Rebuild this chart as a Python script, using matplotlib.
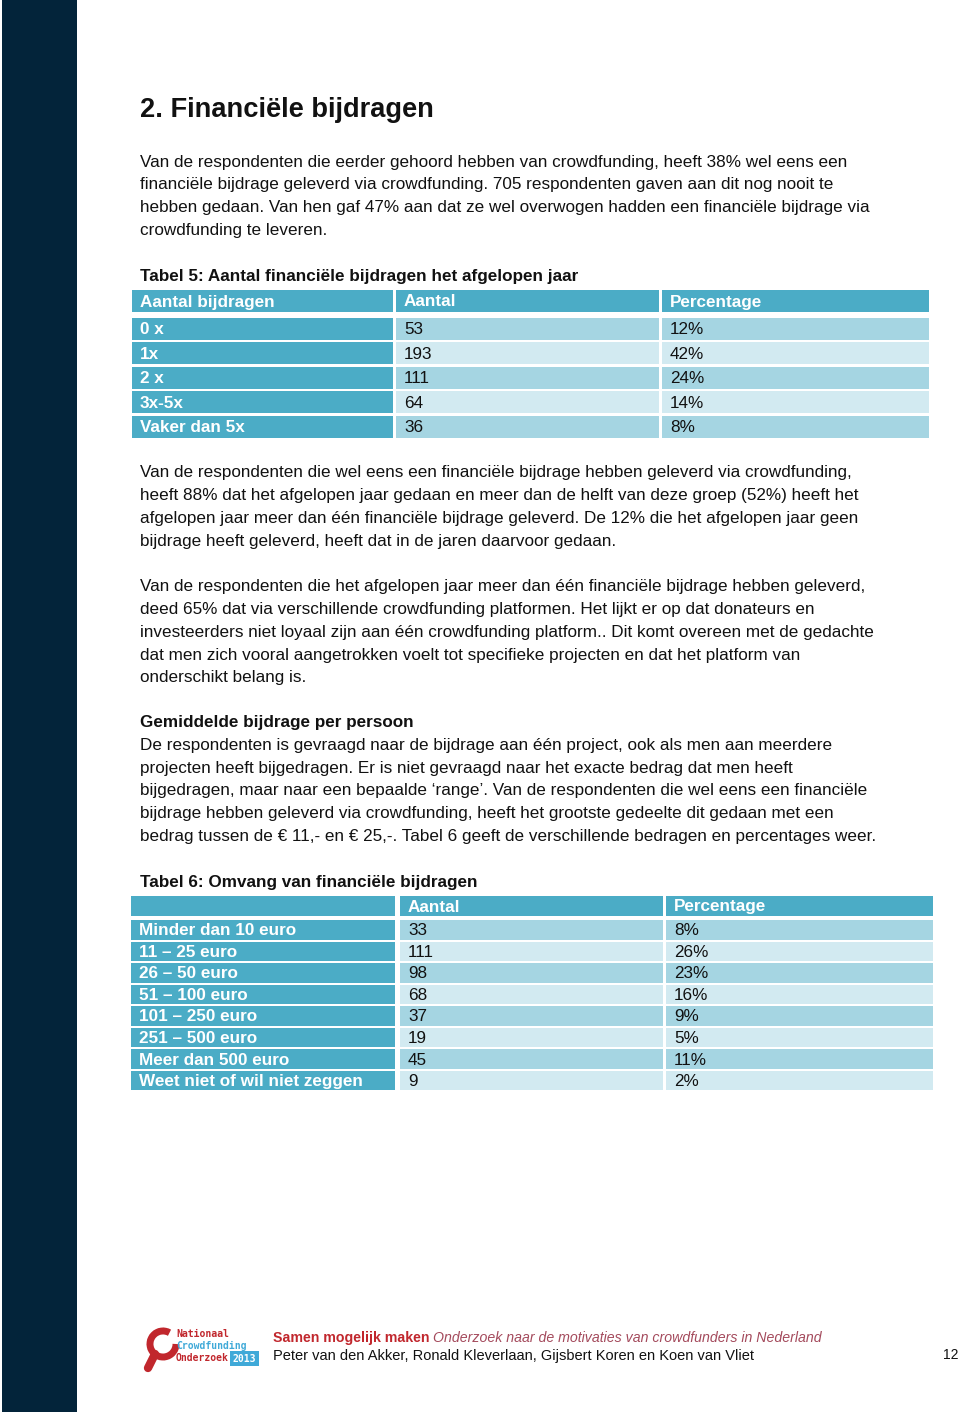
import matplotlib
matplotlib.use("Agg")
import matplotlib.pyplot as plt
from matplotlib.patches import Rectangle, Arc

plt.rcParams['font.family'] = ['Liberation Sans', 'DejaVu Sans']

# ---------------- data ----------------
t5_title = "Tabel 5: Aantal financiële bijdragen het afgelopen jaar"
t5_header = ["Aantal bijdragen", "Aantal", "Percentage"]
t5_categories = ["0 x", "1x", "2 x", "3x-5x", "Vaker dan 5x"]
t5_counts = [53, 193, 111, 64, 36]
t5_percent = ["12%", "42%", "24%", "14%", "8%"]

t6_title = "Tabel 6: Omvang van financiële bijdragen"
t6_header = ["", "Aantal", "Percentage"]
t6_categories = ["Minder dan 10 euro", "11 – 25 euro", "26 – 50 euro", "51 – 100 euro",
                 "101 – 250 euro", "251 – 500 euro", "Meer dan 500 euro",
                 "Weet niet of wil niet zeggen"]
t6_counts = [33, 111, 98, 68, 37, 19, 45, 9]
t6_percent = ["8%", "26%", "23%", "16%", "9%", "5%", "11%", "2%"]

heading = "2. Financiële bijdragen"
para1 = ["Van de respondenten die eerder gehoord hebben van crowdfunding, heeft 38% wel eens een",
         "financiële bijdrage geleverd via crowdfunding. 705 respondenten gaven aan dit nog nooit te",
         "hebben gedaan. Van hen gaf 47% aan dat ze wel overwogen hadden een financiële bijdrage via",
         "crowdfunding te leveren."]
para2 = ["Van de respondenten die wel eens een financiële bijdrage hebben geleverd via crowdfunding,",
         "heeft 88% dat het afgelopen jaar gedaan en meer dan de helft van deze groep (52%) heeft het",
         "afgelopen jaar meer dan één financiële bijdrage geleverd. De 12% die het afgelopen jaar geen",
         "bijdrage heeft geleverd, heeft dat in de jaren daarvoor gedaan."]
para3 = ["Van de respondenten die het afgelopen jaar meer dan één financiële bijdrage hebben geleverd,",
         "deed 65% dat via verschillende crowdfunding platformen. Het lijkt er op dat donateurs en",
         "investeerders niet loyaal zijn aan één crowdfunding platform.. Dit komt overeen met de gedachte",
         "dat men zich vooral aangetrokken voelt tot specifieke projecten en dat het platform van",
         "onderschikt belang is."]
sub_heading = "Gemiddelde bijdrage per persoon"
para4 = ["De respondenten is gevraagd naar de bijdrage aan één project, ook als men aan meerdere",
         "projecten heeft bijgedragen. Er is niet gevraagd naar het exacte bedrag dat men heeft",
         "bijgedragen, maar naar een bepaalde ‘range’. Van de respondenten die wel eens een financiële",
         "bijdrage hebben geleverd via crowdfunding, heeft het grootste gedeelte dit gedaan met een",
         "bedrag tussen de € 11,- en € 25,-. Tabel 6 geeft de verschillende bedragen en percentages weer."]

footer_bold = "Samen mogelijk maken"
footer_italic = "Onderzoek naar de motivaties van crowdfunders in Nederland"
footer_authors = "Peter van den Akker, Ronald Kleverlaan, Gijsbert Koren en Koen van Vliet"
page_number = "12"

# ---------------- styles ----------------
HEAD = "#4BACC6"
BAND1 = "#A5D5E2"
BAND2 = "#D2EAF1"
NAVY = "#03243A"
BODY_FS = 12.3
TAB_FS = 12.3

fig = plt.figure(figsize=(9.6, 14.12), dpi=100)
ax = fig.add_axes([0, 0, 1, 1])
ax.set_xlim(0, 960)
ax.set_ylim(1412, 0)
ax.axis("off")

# left bar
ax.add_patch(Rectangle((2, 0), 75, 1412, color=NAVY, lw=0))

ax.text(140, 110, heading, fontsize=19.6, fontweight="bold", va="center", color="#111111")


def para(lines, y0, step=22.7):
    for i, ln in enumerate(lines):
        ax.text(140, y0 + i * step, ln, fontsize=BODY_FS, va="center", color="#111111")


para(para1, 162)


def table(title, title_y, header, cats, counts, pcts, cols, head_y, head_h,
          row_y0, row_pitch, row_h, fs):
    ax.text(140, title_y, title, fontsize=fs, fontweight="bold", va="center", color="#111111")
    for (x0, x1), h in zip(cols, header):
        ax.add_patch(Rectangle((x0, head_y), x1 - x0, head_h, color=HEAD, lw=0))
        ax.text(x0 + 8, head_y + head_h / 2 + 1, h, fontsize=fs, fontweight="bold",
                color="white", va="center")
    for i, (c, n, p) in enumerate(zip(cats, counts, pcts)):
        y = row_y0 + i * row_pitch
        band = BAND1 if i % 2 == 0 else BAND2
        for j, ((x0, x1), val) in enumerate(zip(cols, [c, str(n), p])):
            ax.add_patch(Rectangle((x0, y), x1 - x0, row_h,
                                   color=HEAD if j == 0 else band, lw=0))
            ax.text(x0 + 8, y + row_h / 2 + 1, val, fontsize=fs,
                    fontweight="bold" if j == 0 else "normal",
                    color="white" if j == 0 else "#111111", va="center")


table(t5_title, 276, t5_header, t5_categories, t5_counts, t5_percent,
      [(132, 393), (396, 659), (662, 929)], 290, 22, 317.5, 24.6, 22, TAB_FS)

para(para2, 473)
para(para3, 587)
ax.text(140, 723, sub_heading, fontsize=BODY_FS, fontweight="bold", va="center", color="#111111")
para(para4, 745.5)

table(t6_title, 882, t6_header, t6_categories, t6_counts, t6_percent,
      [(131, 395), (400, 663), (666, 933)], 896, 20, 920, 21.55, 19.5, TAB_FS)

# ---------------- footer ----------------
RED = "#C1272D"
ax.add_patch(Arc((163, 1344), 26, 26, theta1=0, theta2=300, color=RED, lw=5))
ax.plot([155, 148], [1354, 1368], color=RED, lw=6, solid_capstyle="round")
ax.text(176, 1334, "Nationaal", fontsize=7, fontweight="bold", color=RED, va="center",
        family="DejaVu Sans Mono")
ax.text(176, 1346, "Crowdfunding", fontsize=7, fontweight="bold", color="#3FA9D8", va="center",
        family="DejaVu Sans Mono")
ax.text(176, 1358, "Onderzoek", fontsize=7, fontweight="bold", color=RED, va="center",
        family="DejaVu Sans Mono")
ax.add_patch(Rectangle((230, 1351), 29, 15, color="#3FA9D8", lw=0))
ax.text(244.5, 1359, "2013", fontsize=7, fontweight="bold", color="white", va="center",
        ha="center", family="DejaVu Sans Mono")

t = ax.text(273, 1338, footer_bold + " ", fontsize=10.2, fontweight="bold", color=RED, va="center")
fig.canvas.draw()
bb = t.get_window_extent()
x_end = ax.transData.inverted().transform((bb.x1, bb.y0))[0]
ax.text(x_end, 1338, footer_italic, fontsize=10.2, style="italic", color="#A44A5C", va="center")
ax.text(273, 1356, footer_authors, fontsize=10.5, color="#111111", va="center")
ax.text(958, 1355, page_number, fontsize=10, color="#111111", va="center", ha="right")

fig.savefig("out.png", dpi=100)
